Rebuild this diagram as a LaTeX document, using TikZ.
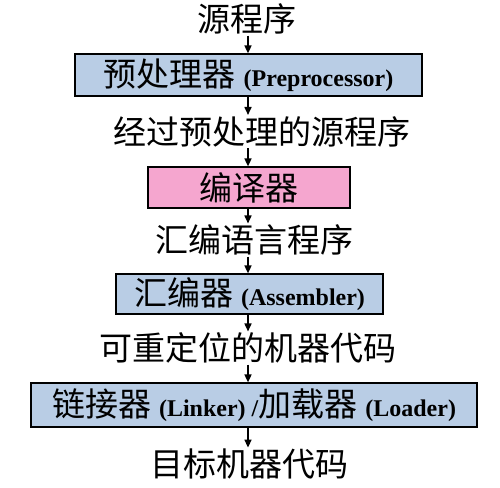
\documentclass[tikz,border=0pt]{standalone}
\usepackage{fontspec}
\setmainfont{Liberation Serif}
\newfontfamily\cjk{Noto Sans CJK SC}
\usetikzlibrary{arrows.meta}
\definecolor{boxblue}{RGB}{185,205,229}
\definecolor{boxpink}{RGB}{245,166,207}
\newcommand{\lat}[1]{{\rmfamily\fontsize{24}{28}\selectfont\bfseries #1}}
\newcommand{\gapx}{\hspace{8pt}}
\begin{document}
\begin{tikzpicture}[x=1pt,y=-1pt,
  lbl/.style={font=\cjk\fontsize{33}{38}\selectfont, inner sep=1pt},
  stage/.style={draw=black, line width=1.2pt, inner sep=0pt, font=\cjk\fontsize{33}{38}\selectfont},
  arr/.style={line width=1.6pt, -{Triangle[width=7pt,length=8pt]}}]
\useasboundingbox (0,0) rectangle (500,487);
\fill[white] (0,0) rectangle (500,487);
\coordinate (ax) at (248,0);
\node[lbl] (t0) at (247,19) {源程序};
\node[stage, fill=boxblue, minimum width=347pt, minimum height=42pt] (b1) at (248.5,75)
  {预处理器\gapx\lat{(Preprocessor)}};
\node[lbl] (t1) at (262,131.5) {经过预处理的源程序};
\node[stage, fill=boxpink, minimum width=202pt, minimum height=41pt] (b2) at (249,187.5)
  {编译器};
\node[lbl] (t2) at (254,240) {汇编语言程序};
\node[stage, fill=boxblue, minimum width=267pt, minimum height=40pt] (b3) at (249.5,294)
  {汇编器\gapx\lat{(Assembler)}};
\node[lbl] (t3) at (247.5,348) {可重定位的机器代码};
\node[stage, fill=boxblue, minimum width=446pt, minimum height=44pt] (b4) at (254,405)
  {链接器\gapx\lat{(Linker) /}加载器\gapx\lat{(Loader)}};
\node[lbl] (t4) at (249,464) {目标机器代码};
\draw[arr] (ax |- t0.south) -- (ax |- b1.north);
\draw[arr] (ax |- b1.south) -- (ax |- t1.north);
\draw[arr] (ax |- t1.south) -- (ax |- b2.north);
\draw[arr] (ax |- b2.south) -- (ax |- t2.north);
\draw[arr] (ax |- t2.south) -- (ax |- b3.north);
\draw[arr] (ax |- b3.south) -- (ax |- t3.north);
\draw[arr] (ax |- t3.south) -- (ax |- b4.north);
\draw[arr] (ax |- b4.south) -- (ax |- t4.north);
\end{tikzpicture}
\end{document}
